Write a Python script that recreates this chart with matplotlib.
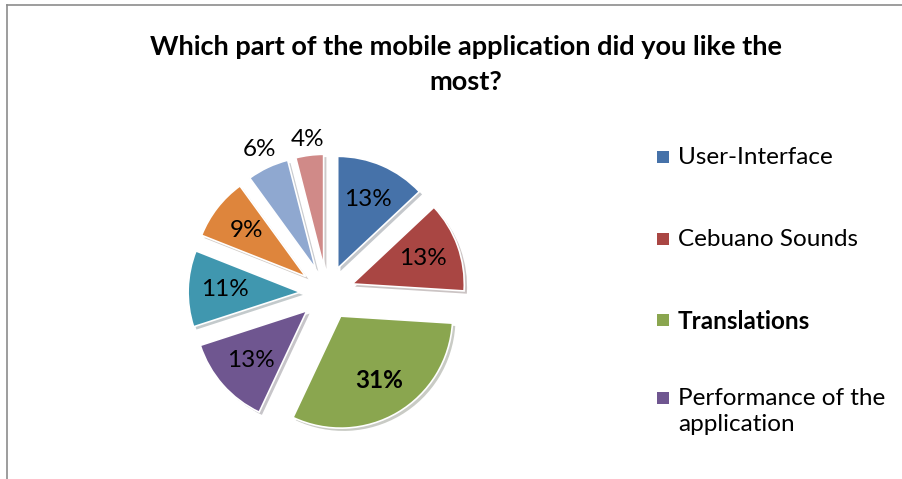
import numpy as np
import matplotlib.pyplot as plt
import matplotlib.patheffects as pe
from matplotlib.patches import Rectangle

plt.rcParams['font.family'] = ['Lato', 'DejaVu Sans']

labels = ["User-Interface", "Cebuano Sounds", "Translations",
          "Performance of the\napplication", "Other 1", "Other 2", "Other 3", "Other 4"]
shares = [13, 13, 31, 13, 11, 9, 6, 4]
colors = ["#4672A9", "#A94643", "#8AA64F", "#6F5690",
          "#4097AF", "#DE853C", "#8FA8D0", "#D08A88"]
legend_count = 4

W, H = 902, 479
fig = plt.figure(figsize=(W / 100, H / 100), dpi=100)

# chart frame (top and left edges visible)
fig.add_artist(plt.Line2D([7 / W, 7 / W], [0, 1 - 5 / H], color="#8c8c8c", lw=1.2))
fig.add_artist(plt.Line2D([7 / W, 1], [1 - 5 / H, 1 - 5 / H], color="#8c8c8c", lw=1.2))

fig.text(466 / W, 1 - 47 / H, "Which part of the mobile application did you like the",
         ha="center", va="center", fontsize=19.5, fontweight="bold")
fig.text(466 / W, 1 - 82 / H, "most?", ha="center", va="center",
         fontsize=19.5, fontweight="bold")

cx, cy, R, lim = 327, 293, 112, 1.4
side = 2 * lim * R
ax = fig.add_axes([(cx - side / 2) / W, (H - cy - side / 2) / H, side / W, side / H])
ax.axis("off")

explode = 0.24
wedges, texts, autotexts = ax.pie(
    shares, colors=colors, startangle=90, counterclock=False,
    explode=[explode] * len(shares), autopct="%d%%", pctdistance=0.67,
    wedgeprops=dict(edgecolor="white", linewidth=1.2),
    textprops=dict(fontsize=17.5, color="black"))
ax.set_xlim(-lim, lim)
ax.set_ylim(-lim, lim)
ax.set_aspect("equal")

for w in wedges:
    w.set_path_effects([pe.SimplePatchShadow(offset=(2, -2), alpha=0.25), pe.Normal()])

autotexts[2].set_fontweight("bold")

# small slices get their labels outside
for i, dist in [(6, 1.18), (7, 1.14)]:
    w = wedges[i]
    mid = np.deg2rad((w.theta1 + w.theta2) / 2)
    autotexts[i].set_position(((explode + dist) * np.cos(mid),
                               (explode + dist) * np.sin(mid)))

# legend (first entries only, as in the cropped original)
row_y = [157, 239, 320, 398]
for i in range(legend_count):
    y = row_y[i]
    fig.add_artist(Rectangle((657 / W, 1 - (y + 6) / H), 12 / W, 12 / H,
                             transform=fig.transFigure, facecolor=colors[i],
                             edgecolor="none"))
    fig.text(678 / W, 1 - (y - 10) / H, labels[i], ha="left", va="top",
             fontsize=17.5, linespacing=1.3,
             fontweight="bold" if labels[i] == "Translations" else "normal")

fig.savefig("out.png", dpi=100)
